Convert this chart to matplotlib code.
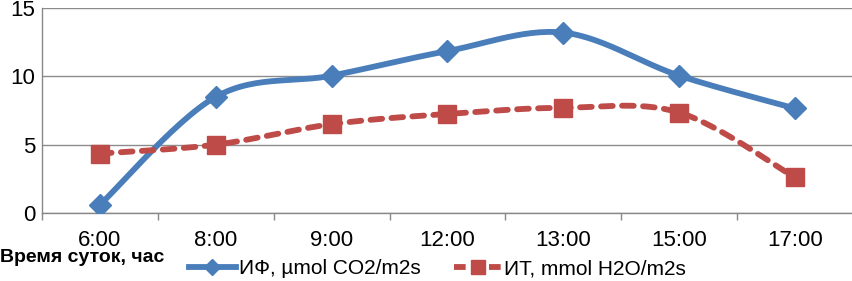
import matplotlib
matplotlib.use('Agg')
import matplotlib.pyplot as plt
import numpy as np

plt.rcParams['font.family'] = ['Liberation Sans', 'DejaVu Sans']

# ===== DATA =====
hours = ['6:00', '8:00', '9:00', '12:00', '13:00', '15:00', '17:00']
if_vals = [0.6, 8.5, 10.05, 11.85, 13.2, 10.05, 7.65]   # ИФ, µmol CO2/m2s
it_vals = [4.35, 5.0, 6.5, 7.25, 7.7, 7.35, 2.6]        # ИТ, mmol H2O/m2s


def smooth(y, n=30):
    # Excel-like smoothed line (Catmull-Rom bezier through the points)
    y = np.asarray(y, float)
    x = np.arange(len(y), dtype=float)
    xs, ys = [], []
    for i in range(len(y) - 1):
        p0 = (x[max(i - 1, 0)], y[max(i - 1, 0)])
        p1 = (x[i], y[i])
        p2 = (x[i + 1], y[i + 1])
        p3 = (x[min(i + 2, len(y) - 1)], y[min(i + 2, len(y) - 1)])
        c1 = (p1[0] + (p2[0] - p0[0]) / 6, p1[1] + (p2[1] - p0[1]) / 6)
        c2 = (p2[0] - (p3[0] - p1[0]) / 6, p2[1] - (p3[1] - p1[1]) / 6)
        t = np.linspace(0, 1, n)
        bx = (1-t)**3*p1[0] + 3*(1-t)**2*t*c1[0] + 3*(1-t)*t**2*c2[0] + t**3*p2[0]
        by = (1-t)**3*p1[1] + 3*(1-t)**2*t*c1[1] + 3*(1-t)*t**2*c2[1] + t**3*p2[1]
        xs.append(bx); ys.append(by)
    return np.concatenate(xs), np.concatenate(ys)


blue = '#4A7EBB'
red = '#BE4B48'

fig = plt.figure(figsize=(8.53, 2.81), dpi=100)
ax = fig.add_axes([42/853, 68/281, 811/853, 205/281])

x = np.arange(len(hours))
sx, sy = smooth(if_vals)
ax.plot(sx, sy, color=blue, lw=4.2, solid_capstyle='round', zorder=3)
ax.plot(x, if_vals, ls='none', marker='D', ms=11, color=blue, zorder=4)
sx, sy = smooth(it_vals)
ax.plot(sx, sy, color=red, lw=4.2, ls=(0, (2.0, 1.6)), dash_capstyle='round', zorder=3)
ax.plot(x, it_vals, ls='none', marker='s', ms=13.5, color=red, zorder=4)

# legend handles
h1, = ax.plot([], [], color=blue, lw=4.2, marker='D', ms=8)
h2, = ax.plot([], [], color=red, lw=4.2, ls=(0, (2.0, 1.0)), marker='s', ms=10)
fig.legend([h1, h2], ['ИФ, µmol CO2/m2s', 'ИТ, mmol H2O/m2s'], ncol=2,
           loc='center', bbox_to_anchor=(437/853, 12/281), frameon=False,
           fontsize=15, handlelength=2.3, handletextpad=0.1, columnspacing=1.6,
           borderpad=0, borderaxespad=0)

ax.set_xlim(-0.5, len(hours) - 0.5)
ax.set_ylim(0, 15)
ax.set_yticks([0, 5, 10, 15])
ax.set_xticks(x)
ax.set_xticklabels(hours)
ax.set_xticks(np.arange(len(hours) + 1) - 0.5, minor=True)
ax.tick_params(axis='x', which='major', length=0, labelsize=16, pad=12)
ax.tick_params(axis='x', which='minor', length=5, color='#888888', width=1)
ax.tick_params(axis='y', length=0, labelsize=16, pad=5)
ax.grid(axis='y', color='#8c8c8c', lw=1)
ax.set_axisbelow(True)
for s in ['top', 'right']:
    ax.spines[s].set_visible(False)
for s in ['left', 'bottom']:
    ax.spines[s].set_color('#888888')
    ax.spines[s].set_linewidth(1)

ax.set_xlabel('Время суток, час', fontsize=14, fontweight='bold', ha='left')
ax.xaxis.set_label_coords(-42/811, -36/205)

fig.savefig('out.png', dpi=100)
